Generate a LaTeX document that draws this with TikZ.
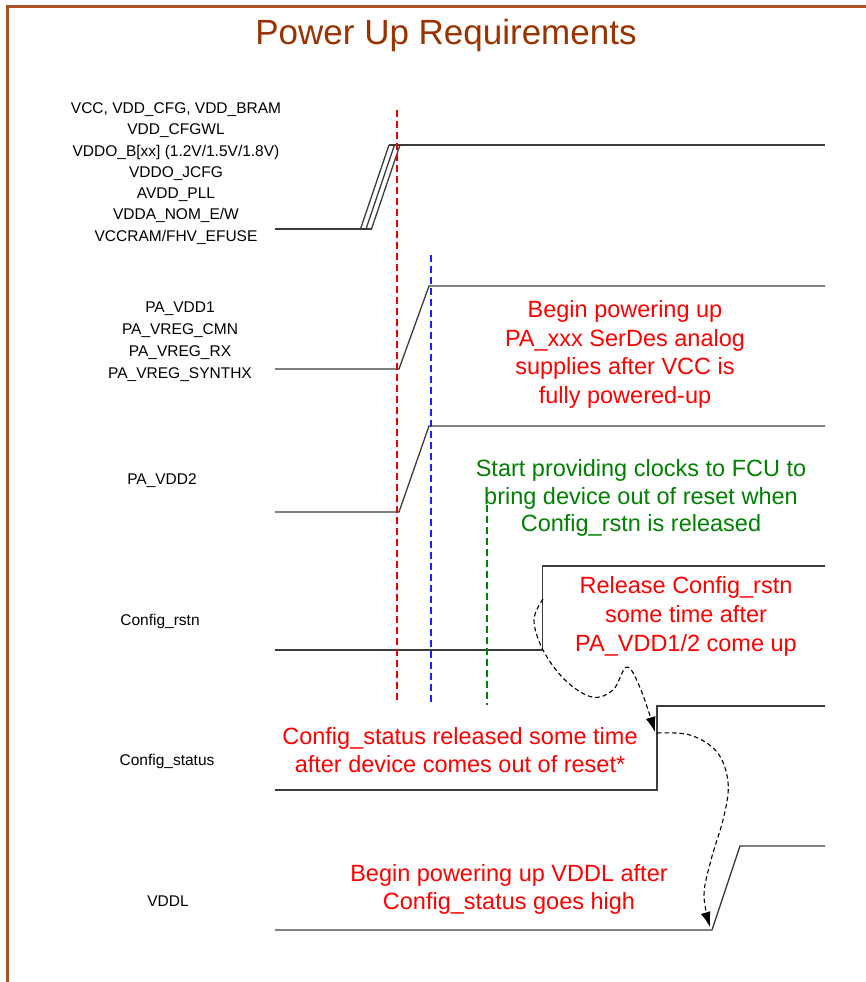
\documentclass[tikz,border=0pt]{standalone}
\usepackage{fontspec}
\setmainfont{Liberation Sans}
\usetikzlibrary{arrows.meta}
\definecolor{framebrown}{RGB}{172,80,38}
\definecolor{titlebrown}{RGB}{153,51,0}
\definecolor{gtext}{RGB}{0,128,0}
\definecolor{wavec}{RGB}{60,60,60}
\definecolor{rtext}{RGB}{255,0,0}
\definecolor{rdash}{RGB}{235,0,0}
\definecolor{bdash}{RGB}{30,30,255}
\begin{document}
\begin{tikzpicture}[x=1pt,y=-1pt,
  wave/.style={draw=wavec, line width=1.3pt, line join=miter},
  vdash/.style={line width=2pt, dash pattern=on 7pt off 4pt},
  siglabel/.style={font=\fontsize{15.5}{21.3}\selectfont, align=center, inner sep=0pt},
  note/.style={font=\fontsize{23.5}{28.6}\selectfont, align=center, inner sep=0pt},
  arr/.style={draw=black, line width=1.1pt, dash pattern=on 4.5pt off 3pt,
     -{Latex[length=15pt,width=10pt]}}
]
\useasboundingbox (0,0) rectangle (865,982);

% frame and title
\draw[framebrown, line width=2.5pt] (7.5,1000) -- (7.5,6.5) -- (880,6.5);
\node[titlebrown, font=\fontsize{35}{40}\selectfont, inner sep=0pt] (title) at (446,35) {Power Up Requirements};

% signal labels
\node[siglabel] (lvcc) at (176,173.5) {VCC, VDD\_CFG, VDD\_BRAM\\VDD\_CFGWL\\VDDO\_B[xx] (1.2V/1.5V/1.8V)\\VDDO\_JCFG\\AVDD\_PLL\\VDDA\_NOM\_E/W\\VCCRAM/FHV\_EFUSE};
\node[siglabel, font=\fontsize{15.5}{22}\selectfont] (lpa) at (180,341.5) {PA\_VDD1\\PA\_VREG\_CMN\\PA\_VREG\_RX\\PA\_VREG\_SYNTHX};
\node[siglabel] (lpa2) at (162,481) {PA\_VDD2};
\node[siglabel] (lrstn) at (160,621) {Config\_rstn};
\node[siglabel] (lstat) at (167,761) {Config\_status};
\node[siglabel] (lvddl) at (168,901) {VDDL};

% VCC group waveform
\coordinate (v0) at (275,229); \coordinate (v1) at (372,229);
\coordinate (v2) at (389,145); \coordinate (v3) at (825,145);
\draw[wave] (v0) -- (v1);
\draw[wave] (v2) -- (v3);
\draw[wave] (360.5,229) -- (389,145);
\draw[wave] (366,229) -- (394.5,145);
\draw[wave] (371.5,229) -- (400,145);

% PA_VDD1 group
\coordinate (p0) at (275,369); \coordinate (p1) at (399,369);
\coordinate (p2) at (429,286); \coordinate (p3) at (825,286);
\draw[wave] (p0) -- (p1) -- (p2) -- (p3);

% PA_VDD2
\coordinate (q0) at (275,512); \coordinate (q1) at (399,512);
\coordinate (q2) at (429,426); \coordinate (q3) at (825,426);
\draw[wave] (q0) -- (q1) -- (q2) -- (q3);

% Config_rstn
\coordinate (c0) at (275,650); \coordinate (c1) at (542.5,650);
\coordinate (c2) at (542.5,566); \coordinate (c3) at (825,566);
\draw[wave] (c0) -- (c1) -- (c2) -- (c3);

% Config_status
\coordinate (s0) at (275,790); \coordinate (s1) at (657,790);
\coordinate (s2) at (657,706); \coordinate (s3) at (825,706);
\draw[wave] (s0) -- (s1) -- (s2) -- (s3);

% VDDL
\coordinate (d0) at (275,930); \coordinate (d1) at (712,930);
\coordinate (d2) at (740,846); \coordinate (d3) at (825,846);
\draw[wave] (d0) -- (d1) -- (d2) -- (d3);

% vertical dashed markers (drawn over the waveforms)
\coordinate (rt) at (397,110); \coordinate (rb) at (397,700);
\coordinate (bt) at (431,255); \coordinate (bb) at (431,705);
\coordinate (gt) at (487,505); \coordinate (gb) at (487,705);
\draw[vdash, draw=rdash] (rt) -- (rb);
\draw[vdash, draw=bdash] (bt) -- (bb);
\draw[vdash, draw=gtext] (gt) -- (gb);

% notes
\node[note, rtext] (n1) at (625,354.5) {Begin powering up\\PA\_xxx SerDes analog\\supplies after VCC is\\fully powered-up};
\node[note, gtext, font=\fontsize{23.5}{27.6}\selectfont] (n2) at (641,498) {Start providing clocks to FCU to\\bring device out of reset when\\Config\_rstn is released};
\node[note, rtext, font=\fontsize{23.5}{29}\selectfont] (n3) at (686,616.5) {Release Config\_rstn\\some time after\\PA\_VDD1/2 come up};
\node[note, rtext, font=\fontsize{23.5}{28}\selectfont] (n4) at (460,750.5) {Config\_status released some time\\after device comes out of reset*};
\node[note, rtext, font=\fontsize{23.5}{28}\selectfont] (n5) at (509,889.5) {Begin powering up VDDL after\\Config\_status goes high};

% dashed dependency arrows
\coordinate (a1s) at (543,599);
\coordinate (a1e) at (655,732);
\draw[arr] plot[smooth, tension=0.6] coordinates {(a1s) (534,620) (543,650) (565,680) (592,697) (613,690) (627,667) (641,690) (a1e)};
\coordinate (a2s) at (657,733);
\coordinate (a2e) at (710,927);
\draw[arr] plot[smooth, tension=0.6] coordinates {(a2s) (690,735) (717,752) (728,782) (724,816) (711,860) (704,895) (a2e)};
\end{tikzpicture}
\end{document}
